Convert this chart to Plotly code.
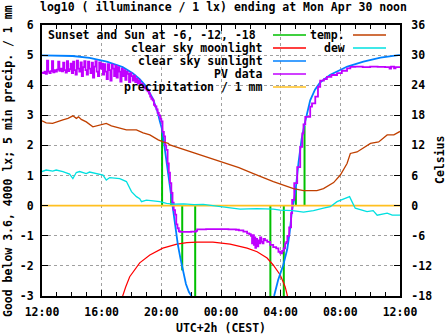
import plotly.graph_objects as go

# ---------------- data ----------------
x_tick_vals = [0, 4, 8, 12, 16, 20, 24]
x_tick_labels = ["12:00", "16:00", "20:00", "00:00", "04:00", "08:00", "12:00"]
y_tick_vals = [-3, -2, -1, 0, 1, 2, 3, 4, 5, 6]
y_tick_labels = ["-3", "-2", "-1", "0", "1", "2", "3", "4", "5", "6"]
y2_tick_vals = [-18, -12, -6, 0, 6, 12, 18, 24, 30, 36]
y2_tick_labels = ["-18", "-12", "-6", "0", "6", "12", "18", "24", "30", "36"]

# hours after 12:00 (Apr 29) ; sunset, -6, -12, -18 ... -18, -12, -6, sunrise
sun_event_hours = [8.05, 8.66, 9.40, 10.27, 15.31, 16.21, 17.02, 17.60]
sun_event_tops = [2.57, 0.50, -2.15, -3.0, -3.0, -3.0, 0.60, 2.65]

moon_hours = [5.25, 5.41, 5.61, 5.88, 6.55, 7.23, 8.10, 9.04, 9.71, 10.39, 11.46,
              12.61, 13.75, 14.42, 15.09, 15.50, 15.97, 16.30, 16.44, 16.55]
moon_vals = [-3.4, -3.0, -2.7, -2.36, -1.90, -1.64, -1.41, -1.28, -1.23, -1.21, -1.21,
             -1.28, -1.41, -1.53, -1.74, -1.97, -2.30, -2.69, -2.97, -3.4]

sun_hours = [0, 2.05, 3.19, 4.34, 5.41, 6.08, 6.55, 7.02, 7.43, 7.73, 7.90, 8.04, 8.20,
             8.40, 8.60, 8.73, 8.85, 8.97, 9.11, 9.28, 9.45, 9.65, 9.85, 10.02, 10.3,
             15.3, 15.56, 15.83, 16.17, 16.44, 16.6, 16.75, 16.9, 17.02, 17.2, 17.4,
             17.6, 17.85, 17.98, 18.3, 18.66, 19.33, 20.47, 21.55, 22.69, 23.9, 24.0]
sun_vals = [4.99, 4.97, 4.91, 4.78, 4.60, 4.40, 4.20, 3.94, 3.55, 3.15, 2.80, 2.55, 2.00,
            1.25, 0.60, 0.15, -0.30, -0.80, -1.30, -1.75, -2.20, -2.60, -2.87, -3.0, -3.4,
            -3.4, -3.0, -2.47, -1.98, -1.45, -0.90, -0.20, 0.20, 0.60, 1.45, 2.20,
            2.70, 3.30, 3.50, 3.85, 4.10, 4.35, 4.62, 4.78, 4.92, 5.0, 5.0]

# PV data, 5-minute samples from 12:00 to 19:00
pv_afternoon_vals = [
    4.42, 4.40, 4.45, 4.38, 4.82, 4.45, 4.40, 4.47, 4.80, 4.43, 4.50, 4.45,
    4.52, 4.78, 4.48, 4.55, 4.46, 4.75, 4.50, 4.42, 4.80, 4.47, 4.53, 4.72,
    4.40, 4.78, 4.50, 4.35, 4.82, 4.55, 4.45, 4.76, 4.30, 4.60, 4.80, 4.50,
    4.35, 4.78, 4.55, 4.40, 4.75, 4.25, 4.62, 4.80, 4.45, 4.30, 4.76, 4.55,
    4.72, 4.35, 4.70, 4.45, 4.20, 4.70, 4.50, 4.15, 4.68, 4.55, 4.30, 4.65,
    4.25, 4.60, 4.45, 4.12, 4.55, 4.30, 4.50, 4.18, 4.45, 4.38, 4.10, 4.40,
    4.30, 4.15, 4.32, 4.10, 4.22, 4.05, 4.15, 4.02, 4.05, 3.98, 3.92, 3.90,
    3.85]
# PV data after 19:00
pv_rest_hours = [7.08, 7.17, 7.25, 7.33, 7.42, 7.50, 7.58, 7.67, 7.75, 7.83, 7.92, 8.00,
                 8.08, 8.17, 8.25, 8.33, 8.42, 8.50, 8.58, 8.67, 8.75, 8.83, 8.92, 9.00,
                 9.08, 9.17, 9.25, 9.60, 10.00, 10.33, 10.40, 11.0, 11.5, 12.0, 12.5,
                 13.0, 13.2, 13.5, 13.75, 13.9, 14.0, 14.08, 14.12, 14.2, 14.25, 14.3,
                 14.35, 14.42, 14.5, 14.55, 14.62, 14.7, 14.78, 14.85, 14.95, 15.1, 15.3,
                 15.5, 15.7, 15.85, 15.97, 16.1, 16.2, 16.3, 16.38, 16.45, 16.57, 16.7,
                 16.77, 16.91, 17.11, 17.31, 17.45, 17.53, 17.65, 17.98, 18.1, 18.32,
                 18.5, 18.65, 18.9, 19.1, 19.4, 19.78, 20.1, 20.45, 20.67, 21.0, 21.5,
                 22.0, 22.5, 23.0, 23.3, 23.4, 23.6, 23.7, 24.0]
pv_rest_vals = [3.80, 3.72, 3.62, 3.55, 3.50, 3.35, 3.30, 3.20, 3.08, 3.00, 2.88, 2.80,
                2.45, 2.30, 2.00, 1.85, 1.40, 1.10, 0.75, 0.42, 0.10, -0.15, -0.30, -0.62,
                -0.75, -0.85, -0.87, -0.87, -0.86, -0.84, -0.79, -0.78, -0.78, -0.78, -0.79,
                -0.80, -0.82, -0.86, -0.92, -0.95, -1.00, -1.25, -0.98, -1.30, -1.05, -1.40,
                -1.10, -1.35, -1.15, -1.25, -1.05, -1.20, -1.25, -1.10, -1.15, -1.20, -1.30,
                -1.38, -1.42, -1.53, -1.58, -1.50, -1.42, -1.25, -1.20, -1.00, -0.72, -0.25,
                0.19, 0.75, 1.28, 1.95, 2.40, 2.70, 2.95, 3.29, 3.40, 3.62,
                3.95, 4.15, 4.20, 4.28, 4.34, 4.40, 4.48, 4.56, 4.61, 4.62, 4.60,
                4.62, 4.61, 4.60, 4.55, 4.62, 4.56, 4.60, 4.60]

precip_hours = [0, 24]
precip_vals = [0, 0]

temp_hours = [0.0, 0.28, 0.71, 0.96, 1.40, 1.74, 2.07, 2.30, 2.45, 2.63, 2.97, 3.41,
              3.87, 4.31, 4.65, 5.21, 5.66, 6.33, 6.78, 7.23, 7.79, 8.12, 8.46, 8.57,
              9.91, 11.04, 11.93, 13.2, 14.17, 15.51, 16.86, 17.31, 17.53, 18.43, 18.87,
              19.55, 20.0, 20.45, 20.67, 21.12, 21.46, 22.02, 22.57, 23.14, 23.59, 23.93, 24.0]
temp_vals = [16.9, 16.5, 16.4, 16.7, 17.1, 17.4, 17.9, 17.4, 17.7, 17.2, 16.7, 15.7,
             16.1, 16.4, 15.9, 15.5, 15.1, 15.1, 14.5, 14.1, 13.1, 12.7, 12.4, 12.1,
             10.8, 9.6, 8.7, 7.6, 6.4, 4.8, 3.4, 3.2, 3.0, 3.0, 3.4,
             4.6, 6.1, 8.4, 10.4, 10.7, 11.4, 12.4, 12.7, 14.1, 14.1, 14.7, 14.8]

dew_hours = [0.0, 0.28, 0.72, 0.95, 1.40, 1.85, 2.07, 2.30, 2.52, 2.97, 3.19, 3.64,
             4.09, 4.31, 4.54, 5.21, 5.66, 6.00, 6.33, 6.55, 6.67, 7.00, 7.45, 7.90,
             8.35, 8.79, 9.5, 10.2, 10.81, 11.93, 12.6, 13.28, 14.4, 15.51, 15.97, 16.8,
             17.53, 18.2, 18.87, 19.33, 19.78, 20.33, 20.62, 20.78, 21.0, 21.79, 22.2,
             22.47, 23.14, 23.48, 24.0]
dew_vals = [6.8, 7.1, 6.9, 7.1, 6.8, 6.3, 5.4, 6.6, 6.8, 6.4, 6.7, 6.4,
            6.1, 5.1, 5.6, 5.4, 4.8, 2.8, 1.8, 1.4, 0.8, 1.1, 0.9, 0.8,
            0.45, 0.3, 0.35, 0.2, 0.26, -0.2, -0.4, -0.7, -0.6, -0.7, -0.9, -1.0,
            -1.3, -1.0, -0.5, -0.2, 0.8, 1.4, 1.8, 0.8, -0.5, -1.2, -1.0,
            -1.9, -1.5, -1.9, -1.9]

# ---------------- layout helpers ----------------
W, H = 447, 335
L, R, T, B = 42, 47, 25, 39
PW, PH = W - L - R, H - T - B
FONT = "DejaVu Sans Mono"
FS = 11.5


def px(xp):
    return (xp - L) / PW


def py(yp):
    return (H - B - yp) / PH


C_GREEN = "#00c000"
C_RED = "#ff0000"
C_BLUE = "#0080ff"
C_MAG = "#c000ff"
C_ORANGE = "#ffc020"
C_BROWN = "#c04000"
C_CYAN = "#00e0e0"

fig = go.Figure()

gx, gy = [], []
for h, top in zip(sun_event_hours, sun_event_tops):
    gx += [h, h, None]
    gy += [0, top, None]
fig.add_trace(go.Scatter(x=gx, y=gy, mode="lines", line=dict(color=C_GREEN, width=2)))
fig.add_trace(go.Scatter(x=moon_hours, y=moon_vals, mode="lines", line=dict(color=C_RED, width=1.2)))
fig.add_trace(go.Scatter(x=sun_hours, y=sun_vals, mode="lines", line=dict(color=C_BLUE, width=1.8)))
pv_hours = [i / 12 for i in range(len(pv_afternoon_vals))] + pv_rest_hours
pv_vals = pv_afternoon_vals + pv_rest_vals
fig.add_trace(go.Scatter(x=pv_hours, y=pv_vals, mode="lines", line=dict(color=C_MAG, width=1.8, shape="hv")))
fig.add_trace(go.Scatter(x=precip_hours, y=precip_vals, mode="lines", line=dict(color=C_ORANGE, width=1.6)))
fig.add_trace(go.Scatter(x=temp_hours, y=temp_vals, mode="lines", yaxis="y2", line=dict(color=C_BROWN, width=1.3)))
fig.add_trace(go.Scatter(x=dew_hours, y=dew_vals, mode="lines", yaxis="y2", line=dict(color=C_CYAN, width=1.3)))

# key (gnuplot style, opaque)
shapes = [
    dict(type="rect", xref="paper", yref="paper", x0=px(L), x1=px(310), y0=py(T), y1=py(99),
         fillcolor="white", line=dict(width=0), layer="between"),
    dict(type="rect", xref="paper", yref="paper", x0=px(310), x1=px(392), y0=py(T), y1=py(54),
         fillcolor="white", line=dict(width=0), layer="between"),
]
annotations = []
key_entries = [
    ("Sunset and Sun at -6, -12, -18", C_GREEN, 0, 0),
    ("clear sky moonlight", C_RED, 0, 1),
    ("clear sky sunlight", C_BLUE, 0, 2),
    ("PV data", C_MAG, 0, 3),
    ("precipitation / 1 mm", C_ORANGE, 0, 4),
    ("temp.", C_BROWN, 1, 0),
    ("dew", C_CYAN, 1, 1),
]
row_y = [35, 48, 61, 74, 87]
col_text_right = [265, 347]
col_sample = [(273, 306), (353, 386)]
for label, color, col, row in key_entries:
    yy = row_y[row]
    tr = col_text_right[col] - (7 if (col == 0 and row == 0) else 0)
    annotations.append(dict(text=label, xref="paper", yref="paper", x=px(tr), y=py(yy),
                            xanchor="right", yanchor="middle", showarrow=False,
                            font=dict(family=FONT, size=FS, color="black", weight="bold")))
    s0, s1 = col_sample[col]
    shapes.append(dict(type="line", xref="paper", yref="paper", x0=px(s0), x1=px(s1),
                       y0=py(yy), y1=py(yy), line=dict(color=color, width=1.5)))

annotations.append(dict(text="Good below 3.6, 4000 lx; 5 min precip. / 1 mm", textangle=-90,
                        xref="paper", yref="paper", x=px(8), y=py(161), xanchor="center",
                        yanchor="middle", showarrow=False,
                        font=dict(family=FONT, size=FS, color="black", weight="bold")))
annotations.append(dict(text="Celsius", textangle=-90, xref="paper", yref="paper", x=px(440),
                        y=py(160), xanchor="center", yanchor="middle", showarrow=False,
                        font=dict(family=FONT, size=FS, color="black", weight="bold")))
annotations.append(dict(text="UTC+2h (CEST)", xref="paper", yref="paper", x=px(221), y=py(327.5),
                        xanchor="center", yanchor="middle", showarrow=False,
                        font=dict(family=FONT, size=FS, color="black", weight="bold")))

grid = dict(showgrid=True, gridcolor="#a0a0a0", gridwidth=1, griddash="3px,3px")

fig.update_layout(
    width=W, height=H, margin=dict(l=L, r=R, t=T, b=B, pad=0),
    paper_bgcolor="white", plot_bgcolor="white", showlegend=False,
    font=dict(family=FONT, size=FS, color="black", weight="bold"),
    title=dict(text="log10 ( illuminance / 1 lx) ending at Mon Apr 30 noon", x=0.5, xanchor="center",
               xref="container", y=1 - 7 / H, yanchor="middle", yref="container",
               font=dict(family=FONT, size=FS, color="black", weight="bold")),
    xaxis=dict(range=[0, 24], tickvals=x_tick_vals, ticktext=x_tick_labels, ticks="inside",
               ticklen=6, tickwidth=1, tickcolor="black", showline=True, linecolor="black",
               linewidth=2, mirror="ticks", zeroline=False, ticklabelstandoff=4,
               minor=dict(dtick=1, tick0=0, ticks="inside", ticklen=4, tickcolor="black", showgrid=False),
               **grid),
    yaxis=dict(range=[-3, 6], tickvals=y_tick_vals, ticktext=y_tick_labels, ticks="inside",
               ticklen=6, tickwidth=1, tickcolor="black", showline=True, linecolor="black",
               linewidth=2, mirror=True, zeroline=False, ticklabelstandoff=4, **grid),
    yaxis2=dict(range=[-18, 36], tickvals=y2_tick_vals, ticktext=y2_tick_labels, overlaying="y",
                side="right", ticks="inside", ticklen=6, tickwidth=1, tickcolor="black",
                showline=True, linecolor="black", linewidth=2, showgrid=False, zeroline=False,
                ticklabelstandoff=7),
    shapes=shapes, annotations=annotations,
)

fig.write_html("out.html")
